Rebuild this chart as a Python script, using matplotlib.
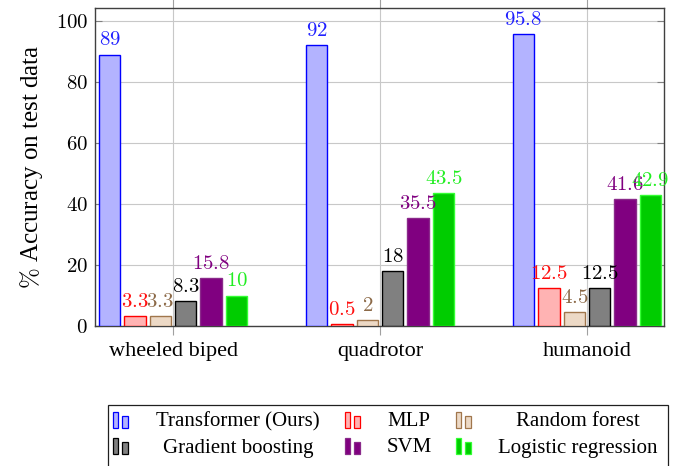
import matplotlib
matplotlib.use("Agg")
import matplotlib.pyplot as plt
from matplotlib.patches import Rectangle
import numpy as np

plt.rcParams['font.family'] = ['Liberation Serif', 'DejaVu Serif']
plt.rcParams['mathtext.fontset'] = 'cm'

# data
robots = ['wheeled biped', 'quadrotor', 'humanoid']
methods = ['Transformer (Ours)', 'MLP', 'Random forest',
           'Gradient boosting', 'SVM', 'Logistic regression']
acc = [
    [89, 92, 95.8],      # Transformer
    [3.3, 0.5, 12.5],    # MLP
    [3.3, 2, 4.5],       # Random forest
    [8.3, 18, 12.5],     # Gradient boosting
    [15.8, 35.5, 41.6],  # SVM
    [10, 43.5, 42.9],    # Logistic regression
]
yticks = [0, 20, 40, 60, 80, 100]

# pgfplots-ish colours: fill, edge, label text
fills = ['#b3b3ff', '#ffb3b3', '#ecd9c6', '#808080', '#800080', '#00cc00']
edges = ['#0000ff', '#ff0000', '#a0764c', '#000000', '#8a2a8a', '#33ff33']
txtcols = ['#2020ff', '#ff1010', '#8c6a48', '#000000', '#800080', '#22ee22']

W, H = 694, 466
fig = plt.figure(figsize=(W/100, H/100), dpi=100)
ax = fig.add_axes([95/W, 1-326/H, (664-95)/W, (326-8.3)/H])

x = np.arange(len(robots))
step = 0.1227
bw = 0.103
for i, m in enumerate(methods):
    pos = x + (i - 2.5)*step
    ax.bar(pos, acc[i], width=bw, color=fills[i], edgecolor=edges[i],
           linewidth=1.0, zorder=3)
    for px, v in zip(pos, acc[i]):
        ax.annotate(f"${v:g}$", (px, v), xytext=(0, 3), textcoords='offset points',
                    ha='center', va='bottom', fontsize=15, color=txtcols[i], zorder=4)

ax.set_xlim(-0.377, 2.372)
ax.set_ylim(0, 104.2)
ax.set_xticks(x, labels=robots, fontsize=16)
ax.set_yticks(yticks, labels=[f"${t}$" for t in yticks], fontsize=15)
ax.grid(True, color='#c8c8c8', linewidth=0.8, zorder=0)
ax.set_axisbelow(True)
ax.tick_params(axis='x', which='both', direction='out', length=6.5, width=0.8,
               color='#a0a0a0', top=True, pad=5)
ax.tick_params(axis='y', which='both', direction='in', length=5, width=0.8,
               color='#808080', right=True, pad=5)
for s in ax.spines.values():
    s.set_color('#404040')
    s.set_linewidth(1.0)
ax.set_ylabel(r"$\%$ Accuracy on test data", fontsize=18)
ax.yaxis.set_label_coords(-0.088, 0.5)

# legend, drawn like pgfplots: two small bars + centred text in 3 columns
def fx(p):
    return p / W

def fy(p):
    return 1 - p / H

fig.add_artist(Rectangle((fx(107.5), fy(480)), fx(668) - fx(107.5), fy(405) - fy(480),
                         transform=fig.transFigure, facecolor='white',
                         edgecolor='#202020', linewidth=0.9, clip_on=False))
mark_x = [113, 345, 456]
text_cx = [238, 409, 578]
row_base = [428, 454]
for i, m in enumerate(methods):
    r, c = divmod(i, 3)
    b = row_base[r]
    x0 = mark_x[c]
    fig.add_artist(Rectangle((fx(x0), fy(b)), fx(5), fy(b - 16) - fy(b),
                             transform=fig.transFigure, facecolor=fills[i],
                             edgecolor=edges[i], linewidth=0.9))
    fig.add_artist(Rectangle((fx(x0 + 9), fy(b)), fx(6), fy(b - 12) - fy(b),
                             transform=fig.transFigure, facecolor=fills[i],
                             edgecolor=edges[i], linewidth=0.9))
    fig.text(fx(text_cx[c]), fy(b - 6), m, ha='center', va='center', fontsize=15)

fig.savefig('out.png', dpi=100)
